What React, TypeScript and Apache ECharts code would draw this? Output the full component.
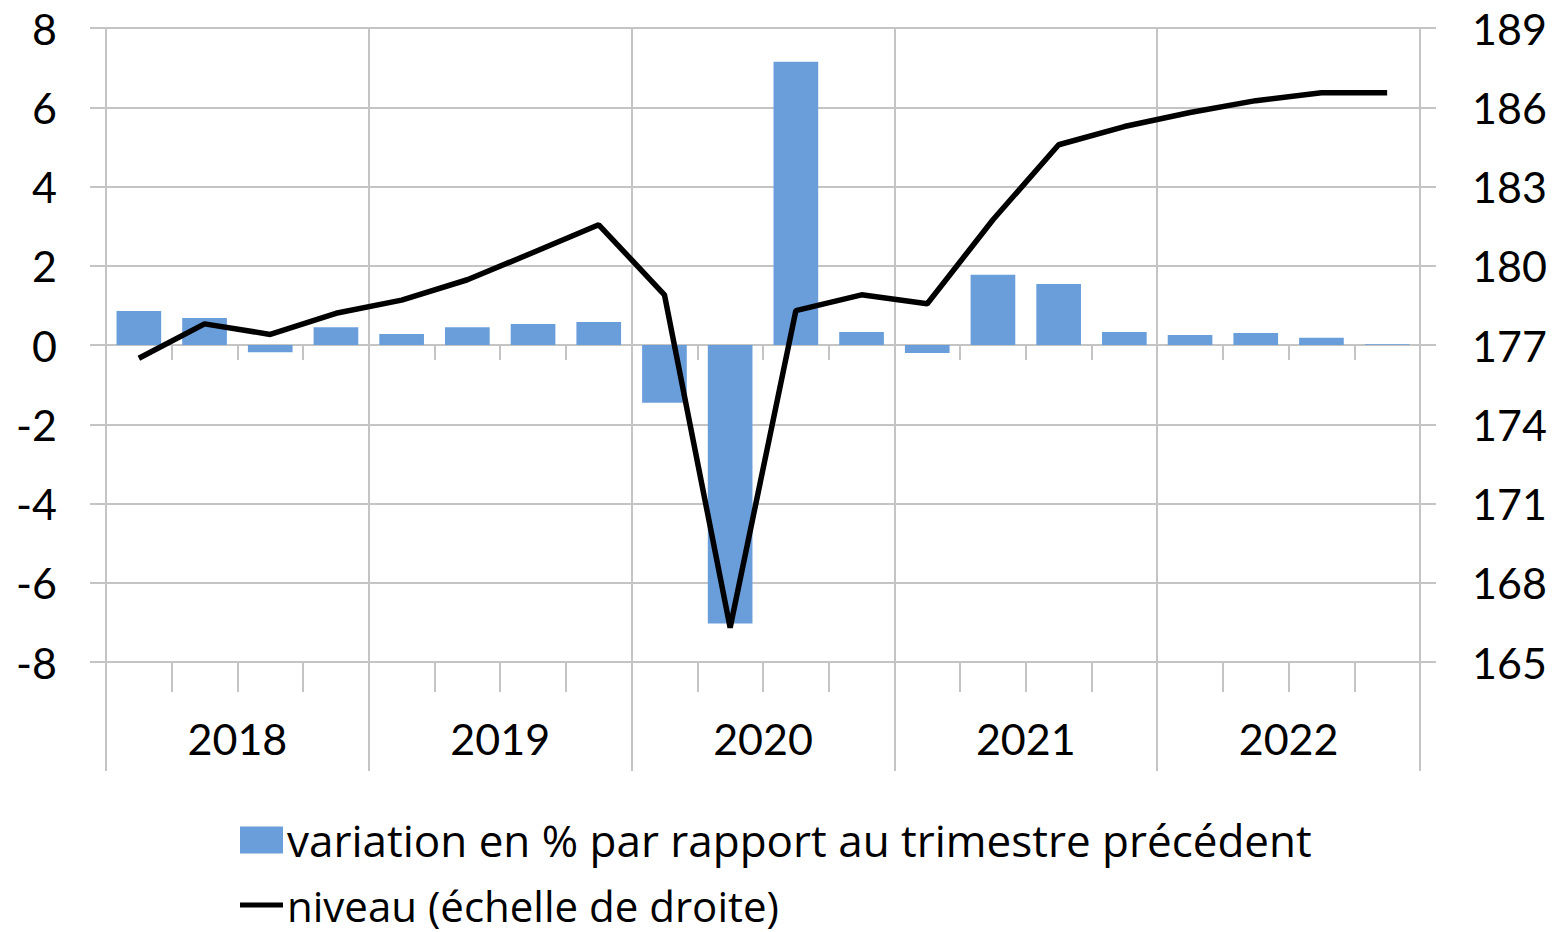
import React, { useEffect, useRef } from "react";
import * as echarts from "echarts";

const quarters = [
  "T1 2018", "T2 2018", "T3 2018", "T4 2018",
  "T1 2019", "T2 2019", "T3 2019", "T4 2019",
  "T1 2020", "T2 2020", "T3 2020", "T4 2020",
  "T1 2021", "T2 2021", "T3 2021", "T4 2021",
  "T1 2022", "T2 2022", "T3 2022", "T4 2022",
];
const years = ["2018", "2019", "2020", "2021", "2022"];
const variation = [
  0.86, 0.68, -0.18, 0.45,
  0.28, 0.45, 0.53, 0.58,
  -1.46, -7.03, 7.15, 0.33,
  -0.2, 1.77, 1.54, 0.33,
  0.25, 0.3, 0.18, 0.02,
];
const niveau = [
  176.5, 177.8, 177.4, 178.2,
  178.7, 179.47, 180.5, 181.55,
  178.9, 166.3, 178.3, 178.9,
  178.56, 181.74, 184.58, 185.27,
  185.8, 186.25, 186.55, 186.55,
];
const barName = "variation en % par rapport au trimestre précédent";
const lineName = "niveau (échelle de droite)";

const FONT = "Lato";
const LEGEND_FONT = "Open Sans";
const GRID = "#c4c4c4";

export default function App() {
  const ref = useRef<HTMLDivElement>(null);
  useEffect(() => {
    if (!ref.current) return;
    const chart = echarts.init(ref.current, null, { renderer: "svg" });
    const legendText = {
      fontSize: 44,
      color: "#000",
      fontFamily: LEGEND_FONT,
      lineHeight: 36,
      padding: [0, 0, 0, -1],
    };
    chart.setOption({
      animation: false,
      textStyle: { fontFamily: FONT },
      grid: { left: 106, right: 135, top: 28, bottom: 270, containLabel: false },
      legend: [
        {
          data: [{ name: barName, icon: "rect" }],
          left: 240,
          top: 818,
          padding: 0,
          itemWidth: 43,
          itemHeight: 27,
          itemGap: 0,
          textStyle: legendText,
        },
        {
          data: [{ name: lineName, icon: "rect" }],
          left: 240,
          top: 884,
          padding: 0,
          itemWidth: 43,
          itemHeight: 5,
          itemStyle: { color: "#000" },
          textStyle: { ...legendText, fontSize: 42, lineHeight: 34 },
        },
      ],
      xAxis: [
        {
          type: "category",
          data: quarters,
          axisLine: { onZero: true, onZeroAxisIndex: 0, lineStyle: { color: GRID, width: 2 } },
          axisTick: { show: true, interval: 0, length: 15, lineStyle: { color: GRID, width: 2 } },
          axisLabel: { show: false },
          splitLine: { show: false },
        },
        {
          type: "category",
          data: quarters,
          position: "bottom",
          axisLine: { onZero: false, lineStyle: { color: GRID, width: 2 } },
          axisTick: { show: true, interval: 0, length: 30, lineStyle: { color: GRID, width: 2 } },
          axisLabel: { show: false },
          splitLine: { show: false },
        },
        {
          type: "category",
          data: years,
          position: "bottom",
          axisLine: { onZero: false, show: false },
          axisTick: { show: true, interval: 0, length: 109, lineStyle: { color: GRID, width: 2 } },
          axisLabel: { show: true, interval: 0, fontSize: 43, color: "#000", fontFamily: FONT, margin: 55 },
          splitLine: { show: true, interval: 0, lineStyle: { color: GRID, width: 2 } },
        },
      ],
      yAxis: [
        {
          type: "value",
          min: -8,
          max: 8,
          interval: 2,
          position: "left",
          axisLine: { show: true, lineStyle: { color: GRID, width: 2 } },
          axisTick: { show: true, length: 16, lineStyle: { color: GRID, width: 2 } },
          axisLabel: { fontSize: 43, color: "#000", fontFamily: FONT, margin: 49 },
          splitLine: { show: true, lineStyle: { color: GRID, width: 2 } },
        },
        {
          type: "value",
          min: 165,
          max: 189,
          interval: 3,
          position: "right",
          axisLine: { show: true, lineStyle: { color: GRID, width: 2 } },
          axisTick: { show: true, length: 16, lineStyle: { color: GRID, width: 2 } },
          axisLabel: { fontSize: 43, color: "#000", fontFamily: FONT, margin: 52 },
          splitLine: { show: false },
        },
      ],
      series: [
        {
          name: barName,
          type: "bar",
          xAxisIndex: 0,
          yAxisIndex: 0,
          data: variation,
          barWidth: "68%",
          itemStyle: { color: "#6a9edb" },
        },
        {
          name: lineName,
          type: "line",
          xAxisIndex: 0,
          yAxisIndex: 1,
          data: niveau,
          symbol: "none",
          lineStyle: { color: "#000", width: 5.5 },
          itemStyle: { color: "#000" },
          z: 5,
        },
      ],
    });
    return () => chart.dispose();
  }, []);
  return (
    <div
      ref={ref}
      style={{ position: "fixed", left: 0, top: 0, width: 1555, height: 932, background: "#fff" }}
    />
  );
}
